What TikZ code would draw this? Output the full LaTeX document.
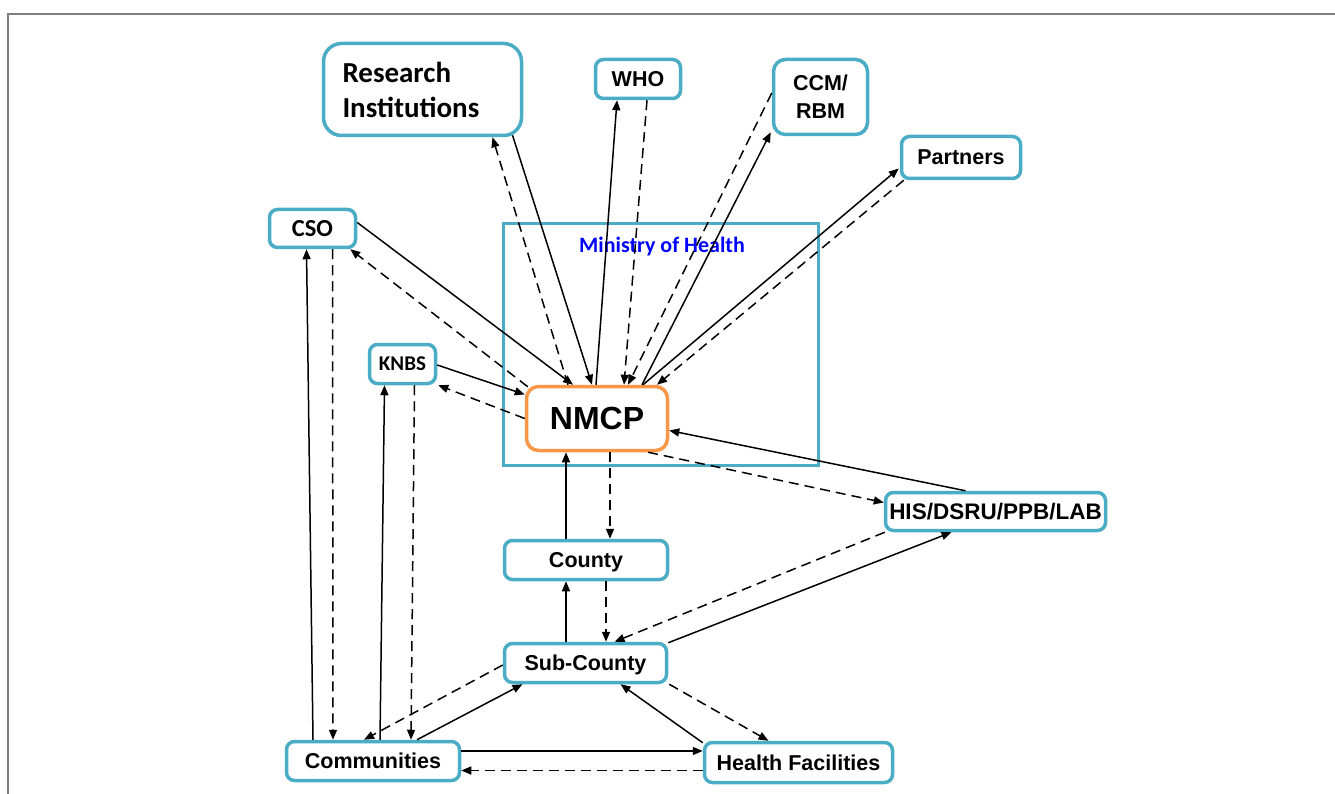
\documentclass[tikz,border=0pt]{standalone}
\usepackage{fontspec}
\setmainfont{Liberation Sans}
\newfontfamily\calibri{Carlito}
\usetikzlibrary{arrows.meta,calc}
\definecolor{boxblue}{HTML}{4BACC6}
\definecolor{boxorange}{HTML}{F79646}
\definecolor{framegray}{HTML}{7F7F7F}
\tikzstyle{actor} = [rectangle, rounded corners=8pt, draw=boxblue, line width=3.5pt, fill=white, align=center, inner sep=2pt, font=\fontsize{21.5}{26}\selectfont\bfseries]
\tikzstyle{oneline} = [actor, text depth=0pt]
\tikzstyle{calibribox} = [oneline, font=\calibri\fontsize{24.5}{28}\selectfont\bfseries]
\tikzstyle{program} = [oneline, draw=boxorange, rounded corners=12pt, font=\fontsize{32}{36}\selectfont\bfseries]
\tikzstyle{ministry} = [rectangle, draw=boxblue, line width=3pt, inner sep=0pt]
\tikzstyle{arrow} = [-{Triangle[length=10pt,width=8pt]}, line width=1.5pt]
\tikzstyle{dashedarrow} = [arrow, dash pattern=on 10pt off 6pt]

\begin{document}
\begin{tikzpicture}[x=1pt, y=-1pt]
    \useasboundingbox (0,0) rectangle (1335,794);
    % Frame
    \draw[framegray, line width=2pt] (8,794) -- (8,14) -- (1335,14);

    % Ministry of Health
    \node[ministry, minimum width=315pt, minimum height=242pt] (moh) at (661,344.5) {};
    \node[font=\calibri\fontsize{22}{26}\selectfont\bfseries, text=blue] (mohlabel) at (662,247) {Ministry of Health};

    % Central programme
    \node[program, minimum width=141pt, minimum height=64pt] (nmcp) at (597,418.5) {NMCP};

    % Top row
    \node[actor, rounded corners=18pt, minimum width=198pt, minimum height=92pt, text width=160pt, align=left, font=\calibri\fontsize{29}{35}\selectfont\bfseries] (ri) at (422.5,89.5) {Research\\Institutions};
    \node[oneline, minimum width=85pt, minimum height=39pt] (who) at (638,79) {WHO};
    \node[actor, rounded corners=12pt, minimum width=94pt, minimum height=75pt, font=\fontsize{21.5}{28}\selectfont\bfseries] (ccm) at (820.5,97) {CCM/\\RBM};
    \node[oneline, minimum width=119pt, minimum height=42pt] (partners) at (961,157.5) {Partners};

    % Left side
    \node[calibribox, minimum width=86pt, minimum height=38pt] (cso) at (312.5,228.5) {CSO};
    \node[calibribox, minimum width=66pt, minimum height=39pt, font=\calibri\fontsize{21}{24}\selectfont\bfseries] (knbs) at (402.5,364) {KNBS};

    % Right side
    \node[oneline, minimum width=220pt, minimum height=38pt, font=\fontsize{22.5}{26}\selectfont\bfseries] (his) at (995.5,511.5) {HIS/DSRU/PPB/LAB};

    % Lower levels
    \node[oneline, minimum width=163pt, minimum height=39pt] (county) at (586,560) {County};
    \node[oneline, minimum width=162pt, minimum height=39pt] (subcounty) at (585.5,663) {Sub-County};
    \node[oneline, minimum width=173pt, minimum height=39pt] (comm) at (373,761) {Communities};
    \node[oneline, minimum width=188pt, minimum height=40pt] (hf) at (798.5,762.5) {Health Facilities};

    % Arrows to and from the top row
    \draw[dashedarrow] ($(nmcp.north)+(-29,0)$) -- ($(ri.south)+(70,0)$);
    \draw[arrow] ($(ri.south)+(90,-2)$) -- ($(nmcp.north)+(-5,0)$);
    \draw[arrow] ($(nmcp.north)+(-1,0)$) -- ($(who.south)+(-21,0)$);
    \draw[dashedarrow] ($(who.south)+(9,0)$) -- ($(nmcp.north)+(27,0)$);
    \draw[dashedarrow] ($(ccm.west)+(0,-4)$) -- ($(nmcp.north)+(31,0)$);
    \draw[arrow] ($(nmcp.north)+(45,0)$) -- ($(ccm.south west)+(-1,-4)$);
    \draw[arrow] ($(nmcp.north)+(46,0)$) -- ($(partners.west)+(-1,11)$);
    \draw[dashedarrow] ($(partners.south west)+(4,0)$) -- ($(nmcp.north)+(60,0)$);

    % CSO and KNBS
    \draw[arrow] ($(cso.east)+(0,-6)$) -- ($(nmcp.north)+(-24,0)$);
    \draw[dashedarrow] ($(nmcp.north west)+(3,2)$) -- ($(cso.south east)+(-7,0)$);
    \draw[arrow] ($(knbs.east)+(0,1)$) -- ($(nmcp.west)+(0,-24)$);
    \draw[dashedarrow] (nmcp.west) -- ($(knbs.south east)+(1,0)$);

    % HIS
    \draw[arrow] ($(his.north)+(-30,0)$) -- ($(nmcp.east)+(0,12)$);
    \draw[dashedarrow] ($(nmcp.south)+(51,0)$) -- ($(his.west)+(0,-9)$);
    \draw[dashedarrow] ($(his.south west)+(1,0)$) -- ($(subcounty.north)+(29,0)$);
    \draw[arrow] ($(subcounty.north east)+(0,1)$) -- ($(his.south)+(-44,0)$);

    % County and Sub-County
    \draw[arrow] ($(county.north)+(-20,0)$) -- ($(nmcp.south)+(-31,0)$);
    \draw[dashedarrow] ($(nmcp.south)+(13,0)$) -- ($(county.north)+(24,0)$);
    \draw[arrow] ($(subcounty.north)+(-19.5,0)$) -- ($(county.south)+(-20,0)$);
    \draw[dashedarrow] ($(county.south)+(20,0)$) -- ($(subcounty.north)+(20.5,0)$);

    % Sub-County, Communities and Health Facilities
    \draw[dashedarrow] ($(subcounty.west)+(0,2)$) -- ($(comm.north)+(-9,0)$);
    \draw[arrow] ($(comm.north)+(44,0)$) -- ($(subcounty.south)+(-63,0)$);
    \draw[arrow] ($(hf.north west)+(0,2)$) -- ($(subcounty.south)+(35,0)$);
    \draw[dashedarrow] ($(subcounty.south east)+(1,0)$) -- ($(hf.north)+(-30,0)$);
    \coordinate (c2h) at ($(comm.east)+(0,-10)$);
    \coordinate (h2c) at ($(hf.west)+(0,8)$);
    \draw[arrow] (c2h) -- (c2h -| hf.west);
    \draw[dashedarrow] (h2c) -- (h2c -| comm.east);

    % Communities up to CSO and KNBS
    \draw[arrow] ($(comm.north)+(-60,0)$) -- ($(cso.south)+(-6,0)$);
    \draw[dashedarrow] ($(cso.south)+(20,0)$) -- ($(comm.north)+(-40,0)$);
    \draw[arrow] ($(comm.north)+(7,0)$) -- ($(knbs.south)+(-18,0)$);
    \draw[dashedarrow] ($(knbs.south)+(12,0)$) -- ($(comm.north)+(38,0)$);
\end{tikzpicture}
\end{document}
